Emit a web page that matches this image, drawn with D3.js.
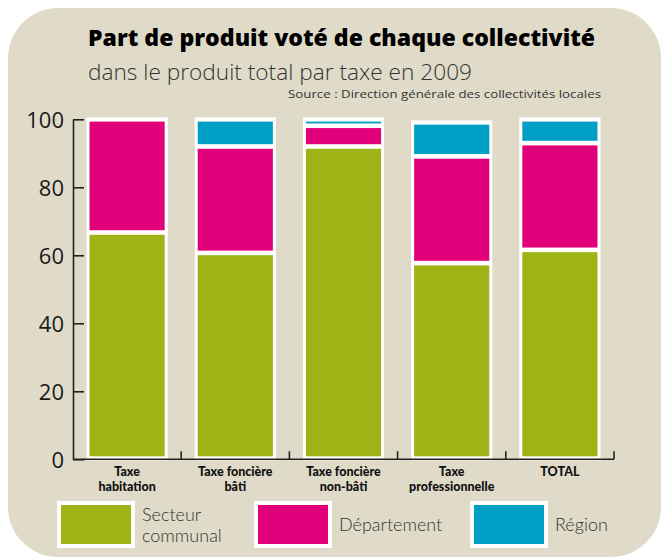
<!DOCTYPE html>
<html lang="fr">
<head>
  <meta charset="UTF-8">
  <script src="https://d3js.org/d3.v7.min.js"></script>
  <style>
    body { margin: 0; background: #ffffff; }
    text { font-family: "Open Sans", "DejaVu Sans", sans-serif; fill: #1a1a1a; }
  </style>
</head>
<body>
<div id="my_dataviz"></div>
<script>
  // data (% of product voted, 2009)
  var categories = ["Taxe habitation", "Taxe foncière bâti", "Taxe foncière non-bâti", "Taxe professionnelle", "TOTAL"];
  var labelLines = [["Taxe", "habitation"], ["Taxe foncière", "bâti"], ["Taxe foncière", "non-bâti"], ["Taxe", "professionnelle"], ["TOTAL"]];
  var secteurCommunal = [66.7, 60.7, 92.0, 57.7, 61.6];
  var departement = [33.3, 31.3, 6.1, 31.4, 31.4];
  var region = [0, 8.0, 1.9, 10.0, 7.0];
  var seriesNames = ["Secteur communal", "Département", "Région"];
  var yTicks = [0, 20, 40, 60, 80, 100];

  var colors = ["#9eb315", "#e2007a", "#00a0c6"];
  var W = 661, H = 559;

  var svg = d3.select("#my_dataviz")
    .append("svg")
    .attr("width", W)
    .attr("height", H);

  // beige card
  svg.append("rect")
    .attr("x", 8).attr("y", 8)
    .attr("width", 653).attr("height", 549)
    .attr("rx", 50).attr("ry", 50)
    .attr("fill", "#e0dbc8");

  // titles
  svg.append("text")
    .attr("x", 88).attr("y", 46)
    .attr("textLength", 507).attr("lengthAdjust", "spacingAndGlyphs")
    .style("font-size", "23px").style("font-weight", 800)
    .style("fill", "#000")
    .text("Part de produit voté de chaque collectivité");

  svg.append("text")
    .attr("x", 88).attr("y", 80)
    .attr("textLength", 384).attr("lengthAdjust", "spacingAndGlyphs")
    .style("font-size", "22px").style("font-weight", 300)
    .style("fill", "#333")
    .text("dans le produit total par taxe en 2009");

  svg.append("text")
    .attr("x", 601).attr("y", 98)
    .attr("text-anchor", "end")
    .attr("textLength", 313).attr("lengthAdjust", "spacingAndGlyphs")
    .style("font-size", "11px").style("font-weight", 400)
    .style("fill", "#333")
    .text("Source : Direction générale des collectivités locales");

  // scales
  var x = d3.scaleBand()
    .domain(categories)
    .range([73, 614])
    .paddingInner(0.25)
    .paddingOuter(0.125);

  var y = d3.scaleLinear()
    .domain([0, 100])
    .range([459.3, 119.3]);

  // stack the three series
  var rows = categories.map(function(c, i) {
    return { cat: c, s0: secteurCommunal[i], s1: departement[i], s2: region[i] };
  });
  var stacked = d3.stack().keys(["s0", "s1", "s2"])(rows);

  // white bar backings
  svg.selectAll(".backing")
    .data(rows)
    .enter()
    .append("rect")
      .attr("class", "backing")
      .attr("x", function(d) { return x(d.cat); })
      .attr("width", x.bandwidth())
      .attr("y", function(d) { return y(d.s0 + d.s1 + d.s2) - 2; })
      .attr("height", function(d) { return y(0) + 1 - (y(d.s0 + d.s1 + d.s2) - 2); })
      .attr("fill", "#ffffff");

  // coloured segments, inset inside the white backing
  stacked.forEach(function(layer, k) {
    svg.selectAll(".seg" + k)
      .data(layer.filter(function(d) { return d[1] - d[0] > 0; }))
      .enter()
      .append("rect")
        .attr("class", "seg" + k)
        .attr("x", function(d) { return x(d.data.cat) + 3; })
        .attr("width", x.bandwidth() - 6)
        .attr("y", function(d) { return y(d[1]) + 2.3; })
        .attr("height", function(d) {
          var top = y(d[1]) + 2.3;
          var bottom = k === 0 ? y(0) - 3 : y(d[0]) - 2.3;
          return Math.max(1.5, bottom - top);
        })
        .attr("fill", colors[k]);
  });

  // y axis (ticks pointing inward)
  var yAxis = svg.append("g")
    .attr("transform", "translate(73,0)")
    .call(d3.axisLeft(y).tickValues(yTicks).tickSizeInner(-11).tickSizeOuter(0).tickPadding(9));
  yAxis.select(".domain").attr("stroke", "#222").attr("stroke-width", 1.6);
  yAxis.selectAll(".tick line").attr("stroke", "#222").attr("stroke-width", 1.6);
  yAxis.selectAll(".tick text")
    .style("font-size", "22px")
    .style("font-family", "'Open Sans', sans-serif")
    .attr("fill", "#1a1a1a")
    .attr("dy", "0.36em");

  // x axis baseline with small upward ticks between the bars
  svg.append("line")
    .attr("x1", 73).attr("x2", 614)
    .attr("y1", y(0)).attr("y2", y(0))
    .attr("stroke", "#222").attr("stroke-width", 1.6);

  svg.selectAll(".xtick")
    .data(categories)
    .enter()
    .append("line")
      .attr("class", "xtick")
      .attr("x1", function(d) { return x(d) + x.bandwidth() + x.step() * x.paddingInner() / 2; })
      .attr("x2", function(d) { return x(d) + x.bandwidth() + x.step() * x.paddingInner() / 2; })
      .attr("y1", y(0)).attr("y2", y(0) - 8)
      .attr("stroke", "#222").attr("stroke-width", 1.6);

  // category labels
  var labels = svg.selectAll(".xlabel")
    .data(categories)
    .enter()
    .append("text")
      .attr("class", "xlabel")
      .attr("text-anchor", "middle")
      .style("font-family", "Lato, 'Open Sans', sans-serif")
      .style("font-size", "12.5px")
      .style("font-weight", 900)
      .style("fill", "#111");
  labels.each(function(d, i) {
    var t = d3.select(this);
    labelLines[i].forEach(function(line, j) {
      t.append("tspan")
        .attr("x", x(d) + x.bandwidth() / 2)
        .attr("y", 475.5 + j * 15)
        .text(line);
    });
  });

  // legend
  var legendX = [57, 254, 470];
  var legend = svg.selectAll(".legend")
    .data(seriesNames)
    .enter()
    .append("g")
      .attr("class", "legend")
      .attr("transform", function(d, i) { return "translate(" + legendX[i] + ",501)"; });

  legend.append("rect")
    .attr("width", 78).attr("height", 47)
    .attr("fill", "#ffffff");
  legend.append("rect")
    .attr("x", 4).attr("y", 4)
    .attr("width", 70).attr("height", 39)
    .attr("fill", function(d, i) { return colors[i]; });

  legend.append("text")
    .attr("x", 85)
    .style("font-family", "Lato, 'Open Sans', sans-serif")
    .style("font-size", "18px")
    .style("font-weight", 300)
    .style("fill", "#333")
    .each(function(d) {
      var t = d3.select(this);
      var words = d === "Secteur communal" ? ["Secteur", "communal"] : [d];
      words.forEach(function(w, j) {
        t.append("tspan")
          .attr("x", 85)
          .attr("y", words.length > 1 ? 19.5 + j * 21 : 30)
          .text(w);
      });
    });
</script>
</body>
</html>
